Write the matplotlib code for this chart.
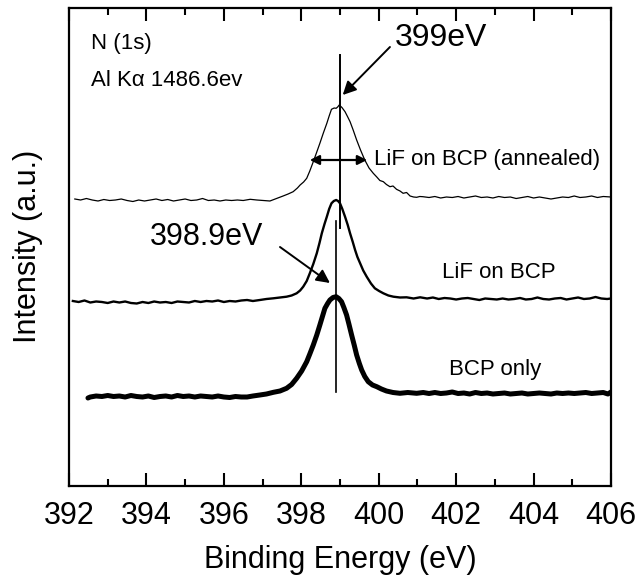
import matplotlib
matplotlib.use("Agg")
import matplotlib.pyplot as plt
from matplotlib.ticker import MultipleLocator

plt.rcParams['font.family'] = ['Liberation Sans', 'DejaVu Sans']

# ---- data (binding energy in eV, intensity in arbitrary units) ----
x_annealed = [392.15, 392.30, 392.45, 392.60, 392.75, 392.90, 393.05, 393.20, 393.35, 393.50,
              393.65, 393.80, 393.95, 394.10, 394.25, 394.40, 394.55, 394.70, 394.85, 395.00,
              395.15, 395.30, 395.45, 395.60, 395.75, 395.90, 396.05, 396.20, 396.35, 396.50,
              396.68, 396.85, 397.02, 397.19, 397.36, 397.53, 397.66, 397.79, 397.90, 397.97,
              398.06, 398.14, 398.22, 398.31, 398.40, 398.48, 398.57, 398.66, 398.72, 398.78,
              398.85, 398.90, 398.94, 398.98, 399.05, 399.13, 399.20, 399.26, 399.34, 399.43,
              399.53, 399.64, 399.75, 399.86, 399.95, 400.03, 400.12, 400.20, 400.29, 400.37,
              400.46, 400.55, 400.63, 400.72, 400.81, 400.90, 400.98, 401.06, 401.14, 401.30,
              401.45, 401.60, 401.75, 401.90, 402.05, 402.20, 402.35, 402.50, 402.65, 402.80,
              402.95, 403.10, 403.25, 403.40, 403.55, 403.70, 403.85, 404.00, 404.15, 404.30,
              404.45, 404.60, 404.75, 404.90, 405.05, 405.20, 405.35, 405.50, 405.65, 405.80,
              406.00]
y_annealed = [287, 286, 287.5, 286, 285, 286.5, 285.5, 286, 287, 285.5,
              284.5, 286, 285, 286, 287, 285.5, 286.5, 285, 286, 287,
              285.5, 286, 287.5, 285.5, 286, 285, 286, 285.5, 286, 285.5,
              286.7, 286, 285.5, 285, 287.5, 290, 292, 294.3, 298, 301,
              304, 307.7, 315, 324.3, 334, 342.7, 353, 362.7, 370, 376.7,
              378, 377.7, 379, 381, 378.5, 374.3, 369, 364.3, 356, 346,
              336, 326, 318, 312.7, 309, 305.5, 304.3, 301.5, 299.3, 300,
              296.7, 295, 292.7, 293.5, 290, 289, 288.7, 289.5, 289.3, 288.5,
              289.5, 288, 289, 288.5, 289.5, 288, 289, 290, 288.5, 289,
              288, 289.5, 288.5, 289, 287.5, 288.5, 289.5, 288, 289, 288,
              287, 288, 289, 288.5, 290, 288.5, 289, 290, 288.5, 289.5,
              289]

x_lif = [392.10, 392.25, 392.40, 392.55, 392.70, 392.85, 393.00, 393.15, 393.30, 393.45,
         393.60, 393.75, 393.90, 394.05, 394.20, 394.35, 394.50, 394.65, 394.80, 394.95,
         395.10, 395.25, 395.40, 395.55, 395.70, 395.85, 396.00, 396.15, 396.30, 396.45,
         396.60, 396.75, 396.93, 397.10, 397.28, 397.45, 397.62, 397.75, 397.88, 397.97,
         398.05, 398.14, 398.22, 398.31, 398.40, 398.47, 398.53, 398.60, 398.66, 398.72,
         398.78, 398.84, 398.90, 398.95, 399.00, 399.06, 399.13, 399.20, 399.26, 399.33,
         399.39, 399.45, 399.52, 399.60, 399.69, 399.80, 399.90, 400.01, 400.12, 400.25,
         400.38, 400.55, 400.72, 400.90, 401.07, 401.25, 401.40, 401.55, 401.70, 401.85,
         402.00, 402.15, 402.30, 402.45, 402.60, 402.75, 402.90, 403.05, 403.20, 403.35,
         403.50, 403.65, 403.80, 403.95, 404.10, 404.25, 404.40, 404.55, 404.70, 404.85,
         405.00, 405.15, 405.30, 405.45, 405.60, 405.75, 405.90, 406.00]
y_lif = [185, 184, 185.5, 183.5, 184.5, 184, 183, 184.5, 183.5, 184.5,
         183, 182.5, 184, 183, 184.5, 183.5, 184, 183, 184.5, 184,
         183.5, 185, 184, 185, 184.5, 185.5, 184, 185, 184.5, 185.5,
         186, 185, 186, 187, 187.7, 188.5, 189.3, 190.5, 192.7, 195.5,
         199.3, 205, 212.7, 222, 232.7, 243, 252.7, 262, 269.3, 277,
         282.7, 285, 286, 285, 282.7, 277, 269.3, 261, 252.7, 244,
         236, 229, 222.7, 215.5, 209.3, 202.5, 197.7, 195, 192.7, 190.5,
         189.3, 188.5, 188.7, 187.5, 188.7, 187.5, 188.5, 187, 188, 187.5,
         186.5, 187.5, 188, 187, 186, 187.5, 187, 186.5, 187.5, 186.5,
         187, 188, 186.5, 187, 188.5, 187, 186.5, 187.5, 188, 186.5,
         187.5, 188.5, 187, 187.5, 189, 187.5, 187, 187.5]

x_bcp = [392.49, 392.55, 392.70, 392.85, 393.00, 393.15, 393.30, 393.45, 393.60, 393.75,
         393.90, 394.05, 394.20, 394.35, 394.50, 394.65, 394.80, 394.95, 395.10, 395.25,
         395.40, 395.55, 395.70, 395.85, 396.00, 396.15, 396.30, 396.45, 396.60, 396.75,
         396.93, 397.10, 397.28, 397.45, 397.62, 397.75, 397.88, 398.01, 398.14, 398.22,
         398.31, 398.40, 398.48, 398.55, 398.61, 398.68, 398.74, 398.82, 398.90, 398.97,
         399.04, 399.10, 399.17, 399.23, 399.30, 399.37, 399.43, 399.50, 399.56, 399.64,
         399.73, 399.84, 399.95, 400.07, 400.20, 400.37, 400.55, 400.75, 400.98, 401.15,
         401.30, 401.45, 401.60, 401.75, 401.90, 402.05, 402.20, 402.35, 402.50, 402.65,
         402.80, 402.95, 403.10, 403.25, 403.40, 403.55, 403.70, 403.85, 404.00, 404.15,
         404.30, 404.45, 404.60, 404.75, 404.90, 405.05, 405.20, 405.35, 405.50, 405.65,
         405.80, 405.92, 406.00]
y_bcp = [88, 89, 90, 89.5, 90.5, 89.5, 90, 89, 90.5, 89.5,
         89, 90, 88.5, 89.5, 90, 89, 90.5, 89.5, 90, 89,
         90, 89.5, 89, 90, 89, 88.5, 89.5, 89, 89, 90,
         91, 92, 93.7, 95, 97.7, 101.5, 107.7, 115, 124.3, 132,
         141, 151, 161, 170, 177.7, 182.5, 186, 188.5, 189.3, 187.5,
         184.3, 178.5, 171, 162, 151, 140.5, 131, 122.5, 116, 109.5,
         104.3, 101, 99.3, 97, 95, 93.5, 92.7, 93.5, 92.7, 93.5,
         92.5, 93.5, 92.5, 93, 94, 92.5, 93, 92, 93.5, 92.5,
         93, 92, 92.5, 93, 92, 92.5, 93, 92, 92.5, 93,
         92.5, 92, 93, 92.5, 93, 92.5, 93, 93.5, 92.5, 93,
         93.5, 92, 94]

peak_annealed = 399.0
peak_bcp = 398.9
xticks_major = [392, 394, 396, 398, 400, 402, 404, 406]

fig = plt.figure(figsize=(6.36, 5.78), dpi=100)
ax = fig.add_axes([69/636, (578-486)/578, (611-69)/636, (486-7.5)/578])

ax.plot(x_annealed, y_annealed, color='black', lw=0.9)
ax.plot(x_lif, y_lif, color='black', lw=1.7)
ax.plot(x_bcp, y_bcp, color='black', lw=3.6, solid_joinstyle='round', solid_capstyle='round')

# vertical marker lines
ax.plot([peak_annealed, peak_annealed], [431, 258], color='black', lw=1.4)
ax.plot([398.89, 398.89], [265, 94], color='black', lw=1.2)

# arrows
arrow_kw = dict(arrowstyle='-|>', color='black', lw=1.4, mutation_scale=20, shrinkA=0, shrinkB=0)
ax.annotate('', xy=(399.07, 391), xytext=(400.29, 439), arrowprops=arrow_kw)
ax.annotate('', xy=(398.74, 203), xytext=(397.45, 239), arrowprops=arrow_kw)
ax.annotate('', xy=(398.22, 326), xytext=(399.70, 326),
            arrowprops=dict(arrowstyle='<|-|>', color='black', lw=1.6, mutation_scale=14,
                            shrinkA=0, shrinkB=0))

# texts
ax.text(400.42, 448, '399eV', fontsize=23, ha='left', va='center')
ax.text(394.08, 249, '398.9eV', fontsize=22, ha='left', va='center')
ax.text(392.57, 443, 'N (1s)', fontsize=16, ha='left', va='center')
ax.text(392.57, 406, 'Al K\u03b1 1486.6ev', fontsize=16, ha='left', va='center')
ax.text(399.88, 326, 'LiF on BCP (annealed)', fontsize=16, ha='left', va='center')
ax.text(401.63, 214, 'LiF on BCP', fontsize=16, ha='left', va='center')
ax.text(401.81, 117, 'BCP only', fontsize=16, ha='left', va='center')

ax.set_xlim(392, 406)
ax.set_ylim(0, 478.5)
ax.set_xticks(xticks_major)
ax.set_xticklabels([str(t) for t in xticks_major])
ax.xaxis.set_minor_locator(MultipleLocator(1))
ax.set_yticks([])
ax.tick_params(axis='x', which='major', direction='in', length=9.5, width=1.5,
               top=True, bottom=True, labelsize=22, pad=10.5)
ax.tick_params(axis='x', which='minor', direction='in', length=5, width=1.5,
               top=True, bottom=True)
for s in ax.spines.values():
    s.set_linewidth(1.6)

ax.set_xlabel('Binding Energy (eV)', fontsize=22, labelpad=10.5)
ax.set_ylabel('Intensity (a.u.)', fontsize=22, labelpad=19)

fig.savefig('out.png', dpi=100)
